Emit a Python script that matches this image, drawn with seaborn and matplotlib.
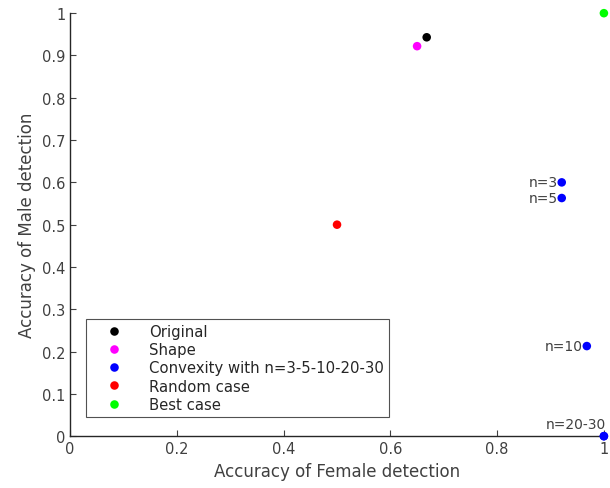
import pandas as pd
import matplotlib
matplotlib.use("Agg")
import matplotlib.pyplot as plt
import seaborn as sns

methods = ["Original", "Shape", "Convexity with n=3-5-10-20-30",
           "Convexity with n=3-5-10-20-30", "Convexity with n=3-5-10-20-30",
           "Convexity with n=3-5-10-20-30", "Convexity with n=3-5-10-20-30",
           "Random case", "Best case"]
female_acc = [0.668, 0.650, 0.921, 0.921, 0.968, 1.0, 1.0, 0.5, 1.0]
male_acc = [0.943, 0.922, 0.600, 0.563, 0.213, 0.0, 0.0, 0.5, 1.0]
n_labels = ["", "", "n=3", "n=5", "n=10", "n=20-30", "", "", ""]

legend_order = ["Original", "Shape", "Convexity with n=3-5-10-20-30",
                "Random case", "Best case"]
colors = ["#000000", "#ff00ff", "#0000ff", "#ff0000", "#00ff00"]

df = pd.DataFrame({"female": female_acc, "male": male_acc,
                   "method": methods, "label": n_labels})

sns.set_style("white")
plt.rcParams["font.family"] = ["DejaVu Sans"]
txt = "#404040"

fig = plt.figure(figsize=(6.1, 4.89), dpi=100)
ax = fig.add_axes([0.115, 0.106, 0.875, 0.865])

sns.scatterplot(data=df, x="female", y="male", hue="method",
                hue_order=legend_order, palette=colors, marker="o",
                s=38, edgecolor="none", ax=ax, clip_on=False, zorder=5)

for _, r in df.iterrows():
    if r["label"] == "":
        continue
    if r["label"] == "n=20-30":
        ax.text(r["female"] + 0.004, r["male"] + 0.012, r["label"],
                ha="right", va="bottom", fontsize=10, color=txt)
    else:
        ax.text(r["female"] - 0.008, r["male"], r["label"],
                ha="right", va="center", fontsize=10, color=txt)

ax.set_xlim(0, 1)
ax.set_ylim(0, 1)
ax.set_xticks([0, 0.2, 0.4, 0.6, 0.8, 1])
ax.set_xticklabels(["0", "0.2", "0.4", "0.6", "0.8", "1"])
ax.set_yticks([i / 10 for i in range(11)])
ax.set_yticklabels(["0"] + [f"{i/10:.1f}" for i in range(1, 10)] + ["1"])
ax.set_xlabel("Accuracy of Female detection", fontsize=12, color=txt)
ax.set_ylabel("Accuracy of Male detection", fontsize=12, color=txt)
ax.tick_params(direction="in", length=4, labelsize=10.5, colors=txt,
               bottom=True, left=True)
for s in ["top", "right"]:
    ax.spines[s].set_visible(False)
for s in ["left", "bottom"]:
    ax.spines[s].set_color("#262626")
    ax.spines[s].set_linewidth(1.0)

leg = ax.legend(loc="lower left", bbox_to_anchor=(0.03, 0.045),
                borderaxespad=0, fontsize=10.7, frameon=True, fancybox=False,
                handletextpad=0.9, borderpad=0.35, labelspacing=0.22,
                handlelength=3.0, markerscale=1.0)
leg.get_frame().set_edgecolor("#262626")
leg.get_frame().set_linewidth(0.8)
for t in leg.get_texts():
    t.set_color("#262626")

fig.savefig("out.png", dpi=100)
